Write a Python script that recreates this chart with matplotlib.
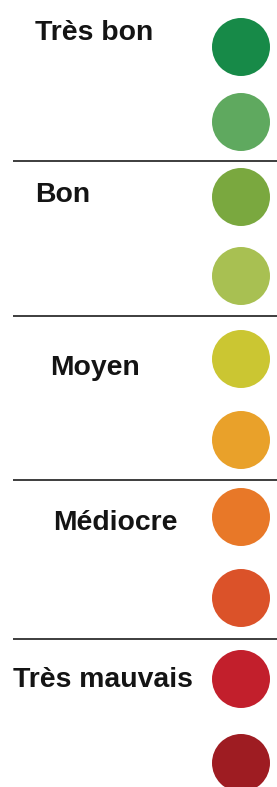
import matplotlib
matplotlib.use("Agg")
import matplotlib.pyplot as plt

# Data
categories = ["Très bon", "Bon", "Moyen", "Médiocre", "Très mauvais"]
dot_colors = ["#178A48", "#5FA95F", "#7AA83F", "#A8C052", "#CBC632",
              "#E9A12A", "#E87828", "#DB5229", "#C21F2C", "#9E1C22"]

# Layout (pixel-like coordinates)
W, H = 277, 787
dot_x = 241
dot_y = [47, 122, 197, 276, 359, 440, 517, 598, 679, 763]
label_x = [35, 35, 50, 53, 13]
label_y = [39.5, 201.5, 375, 530, 687]
sep_y = [161, 316, 480, 639]

fig = plt.figure(figsize=(W / 100, H / 100), dpi=100)
ax = fig.add_axes([0, 0, 1, 1])
ax.set_xlim(0, W)
ax.set_ylim(H, 0)
ax.axis("off")

diam_pt = 58 * 72 / 100
ax.scatter([dot_x] * len(dot_colors), dot_y, s=diam_pt ** 2, c=dot_colors,
           linewidths=0, zorder=3)

for y in sep_y:
    ax.plot([13, W], [y, y], color="#262626", lw=1.25, solid_capstyle="butt")

for lab, x, y in zip(categories, label_x, label_y):
    ax.text(x, y, lab, fontsize=20.4, fontweight="bold", family="Liberation Sans",
            color="#141414", ha="left", va="baseline")

fig.savefig("out.png", dpi=100)
